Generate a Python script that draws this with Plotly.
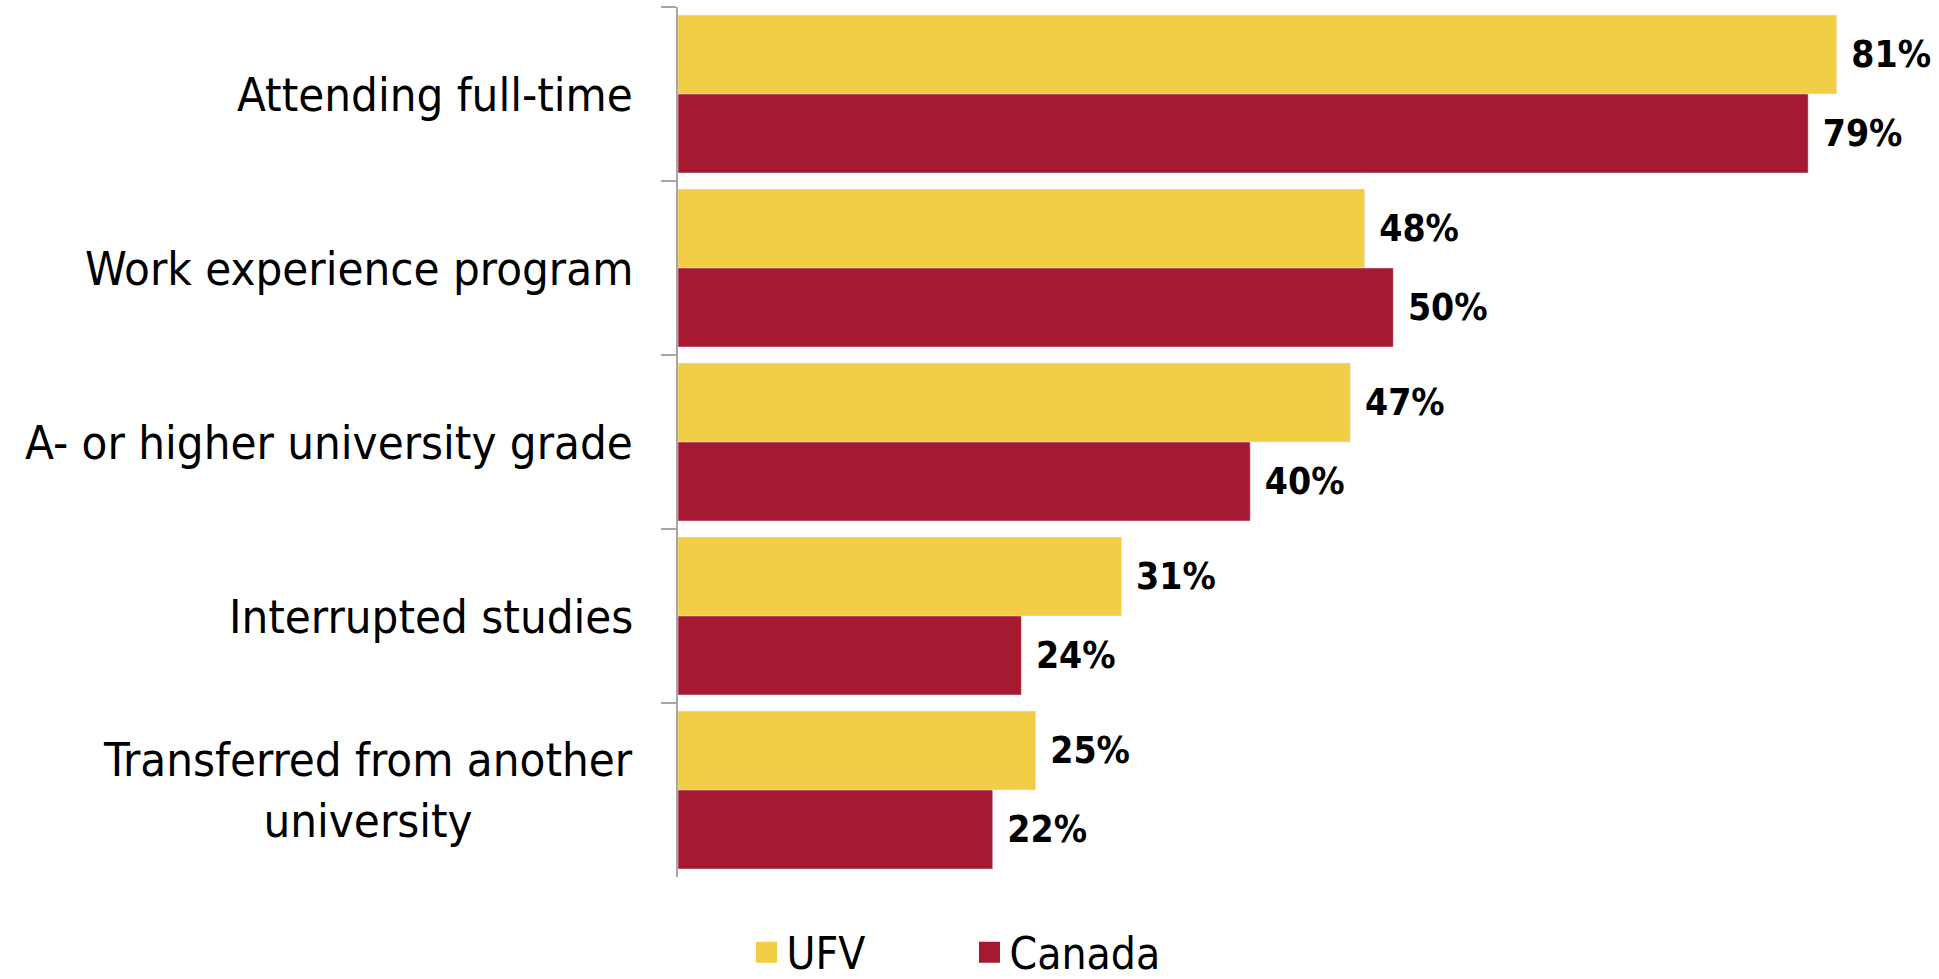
import plotly.graph_objects as go

categories = ["Attending full-time", "Work experience program", "A- or higher university grade",
              "Interrupted studies", "Transferred from another<br>university"]
ufv = [81, 48, 47, 31, 25]
canada = [79, 50, 40, 24, 22]

YELLOW = "#F2CE46"
RED = "#A51931"
FONT = "DejaVu Sans Condensed, DejaVu Sans, sans-serif"

fig = go.Figure()
for name, vals, col in [("UFV", ufv, YELLOW), ("Canada", canada, RED)]:
    fig.add_trace(go.Bar(
        y=categories, x=vals, orientation="h", name=name, marker_color=col,
        text=[f"\u00a0{v}%" for v in vals], textposition="outside",
        textfont=dict(family=FONT, size=37, color="black", weight="bold"),
        constraintext="none", cliponaxis=False, showlegend=False,
    ))
    fig.add_trace(go.Scatter(
        x=[None], y=[None], mode="markers", name=name,
        marker=dict(symbol="square", size=16, color=col, line=dict(color=col, width=5)),
    ))

for c in categories:
    fig.add_annotation(x=0, xref="paper", y=c, yref="y", text=c, showarrow=False,
                       xanchor="right", xshift=-43, align="center",
                       font=dict(family=FONT, size=47, color="black"))

fig.update_layout(
    width=1939, height=979,
    margin=dict(l=678, r=45, t=7, b=102),
    plot_bgcolor="white", paper_bgcolor="white",
    barmode="group", bargap=0.092, bargroupgap=0,
    xaxis=dict(range=[0, 85], visible=False),
    yaxis=dict(autorange="reversed", showticklabels=False, showline=True,
               linecolor="#A6A6A6", linewidth=1.5, ticks="outside", ticklen=15,
               tickcolor="#A6A6A6", tickwidth=1.5, tickson="boundaries", showgrid=False),
    legend=dict(orientation="h", xref="container", yref="container", x=0.5, y=0.027,
                xanchor="center", yanchor="middle", itemsizing="trace",
                bgcolor="rgba(0,0,0,0)",
                font=dict(family=FONT, size=44, color="black"), entrywidth=178),
)

fig.write_html("out.html", config={"displayModeBar": False},
               post_script="document.body.style.margin='0';document.body.style.overflow='hidden';")
